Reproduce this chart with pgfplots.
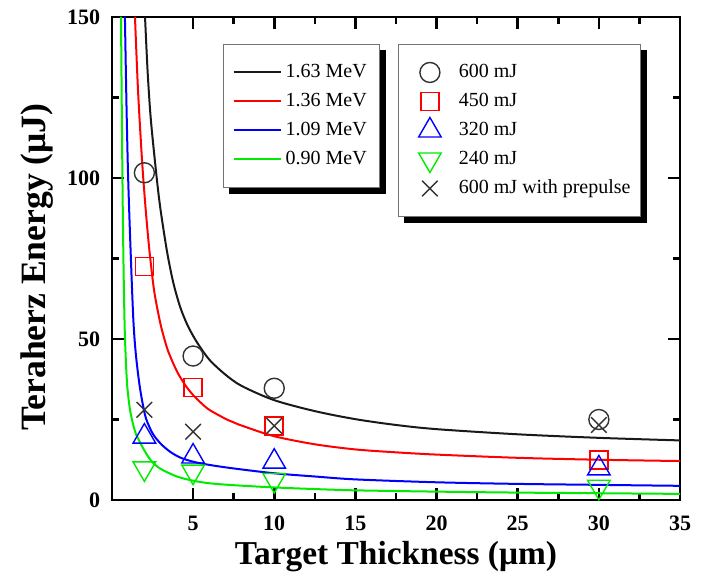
\documentclass[border=0pt]{standalone}
\usepackage{fontspec}
\setmainfont{Liberation Serif}
\usepackage{pgfplots}
\pgfplotsset{compat=1.18}
\pgfdeclarelayer{bg}
\pgfsetlayers{bg,main}

\definecolor{cblack}{RGB}{25,25,25}
\definecolor{cred}{RGB}{255,0,0}
\definecolor{cblue}{RGB}{0,0,255}
\definecolor{cgreen}{RGB}{0,235,0}
\definecolor{cmark}{RGB}{50,50,50}

\pgfplotsset{
  base/.style={
    scale only axis, width=284pt, height=241.5pt,
    xmin=0, xmax=35, ymin=0, ymax=150,
  },
  mylegend/.style={
    legend cell align=left,
    legend style={
      draw=black!55, line width=0.5pt, fill=white,
      font=\fontsize{10}{12}\selectfont,
      inner ysep=7.5pt, row sep=1.5pt,
      nodes={inner sep=2pt, text height=7pt, text depth=2pt},
    },
  },
}

\begin{document}
\begin{tikzpicture}
\begin{axis}[base, mylegend,
  axis line style={line width=1.3pt},
  xtick={5,10,...,35}, ytick={0,50,100,150},
  minor x tick num=1, minor y tick num=1,
  major tick length=6pt, minor tick length=3.5pt,
  every tick/.style={line width=1.3pt, black},
  tick label style={font=\fontsize{11}{13}\selectfont\bfseries},
  xticklabel style={yshift=-4.5pt},
  yticklabel style={xshift=-2.3pt},
  /pgf/number format/assume math mode=true,
  xlabel={Target Thickness (μm)}, ylabel={Teraherz Energy (μJ)},
  xlabel style={font=\fontsize{16.7}{19}\selectfont\bfseries, at={(rel axis cs:0.5,-0.118)}, anchor=center},
  ylabel style={font=\fontsize{17.8}{20}\selectfont\bfseries, at={(rel axis cs:-0.132,0.482)}, rotate=0, anchor=center},
  legend style={at={(axis cs:6.85,141.6)}, anchor=north west, inner xsep=4.5pt, name=legA},
  legend image code/.code={\draw[#1] (0pt,0pt) -- (23.5pt,0pt);},
]
\addplot[cblack, line width=1pt, smooth, tension=0.5] coordinates {
 (2.04,150) (2.2,133) (2.4,118) (2.76,100) (3.0,90) (3.4,77) (3.78,67.5) (4.2,60) (4.61,54.8)
 (5,51) (5.43,47.5) (6.05,43.3) (7,38.9) (8,35.4) (10,31) (12.5,27.6) (15,25.1) (17.5,23.3)
 (20,22) (25,20.4) (30,19.3) (35,18.5)};
\addlegendentry{1.63 MeV}
\addplot[cred, line width=1pt, smooth, tension=0.5] coordinates {
 (1.42,150) (1.6,128) (1.8,110) (1.93,100) (2.1,89) (2.31,77.5) (2.6,65) (2.96,55.4) (3.2,50.6)
 (3.48,46) (4,40) (4.5,35.8) (5,32.6) (5.5,30.1) (6,28) (7,25.2) (7.5,24.1) (8,23.1) (10,19.8)
 (12.5,17.3) (15,15.7) (17.5,14.8) (20,14.1) (25,13.1) (30,12.5) (35,12.1)};
\addlegendentry{1.36 MeV}
\addplot[cblue, line width=1pt, smooth, tension=0.5] coordinates {
 (0.8,150) (0.9,122) (1.0,100) (1.15,77.6) (1.32,56) (1.48,45) (1.73,34.7) (2.04,26.4) (2.3,22.8)
 (2.55,20.3) (3.0,17.5) (3.58,15) (4.2,13.2) (5,11.9) (6,10.9) (7.5,9.8) (10,8.3) (12.5,7.3)
 (15,6.4) (20,5.5) (25,5.0) (30,4.7) (35,4.4)};
\addlegendentry{1.09 MeV}
\addplot[cgreen, line width=1pt, smooth, tension=0.5] coordinates {
 (0.56,150) (0.6,126) (0.65,99) (0.7,78) (0.75,62) (0.8,51) (0.875,41.5) (0.95,35) (1.1,28.5)
 (1.28,24) (1.5,20.3) (1.93,16) (2.4,12.3) (2.96,9.8) (4,7.3) (5,6.0) (6,5.2) (7.5,4.6) (10,3.9)
 (12.5,3.4) (15,3.0) (20,2.6) (25,2.3) (30,2.1) (35,1.9)};
\addlegendentry{0.90 MeV}
\coordinate (bbsw) at (rel axis cs:-0.197,-0.170);
\coordinate (bbne) at (rel axis cs:1.0475,1.035);
\end{axis}

\begin{axis}[base, mylegend, hide axis,
  legend style={at={(axis cs:17.65,141.6)}, anchor=north west, inner xsep=3pt, name=legB},
  legend image code/.code={\draw[#1] plot coordinates {(0pt,0pt)}; \path[draw=none] (-12.5pt,0pt) (12.5pt,0pt);},
]
\addplot[only marks, mark=o, mark size=5pt, cmark, mark options={line width=0.7pt}] coordinates {
 (2,101.6) (5,44.7) (10,34.7) (30,25)};
\addlegendentry{600 mJ}
\addplot[only marks, mark=square, mark size=4.5pt, cred, mark options={line width=0.75pt, draw=cred}] coordinates {
 (2,72.5) (5,34.9) (10,23) (30,12.4)};
\addlegendentry{450 mJ}
\addplot[only marks, mark=triangle, mark size=6.5pt, cblue, mark options={line width=0.7pt}] coordinates {
 (2,19.7) (5,13.5) (10,11.9) (30,9.8)};
\addlegendentry{320 mJ}
\addplot[only marks, mark=triangle, mark size=6.5pt, cgreen, mark options={line width=0.7pt, rotate=180}] coordinates {
 (2,9.8) (5,8.8) (10,6.2) (30,4.1)};
\addlegendentry{240 mJ}
\addplot[only marks, mark=x, mark size=5.5pt, cmark, mark options={line width=0.7pt}] coordinates {
 (2,28) (5,21.2) (10,23) (30,23.3)};
\addlegendentry{600 mJ with prepulse\hspace{5pt}}
\end{axis}
\begin{pgfonlayer}{bg}
\fill[black] ([shift={(3pt,-3pt)}]legA.south west) rectangle ([shift={(3pt,-3pt)}]legA.north east);
\fill[black] ([shift={(3pt,-3pt)}]legB.south west) rectangle ([shift={(3pt,-3pt)}]legB.north east);
\end{pgfonlayer}
\path (bbsw) rectangle (bbne);
\end{tikzpicture}
\end{document}
